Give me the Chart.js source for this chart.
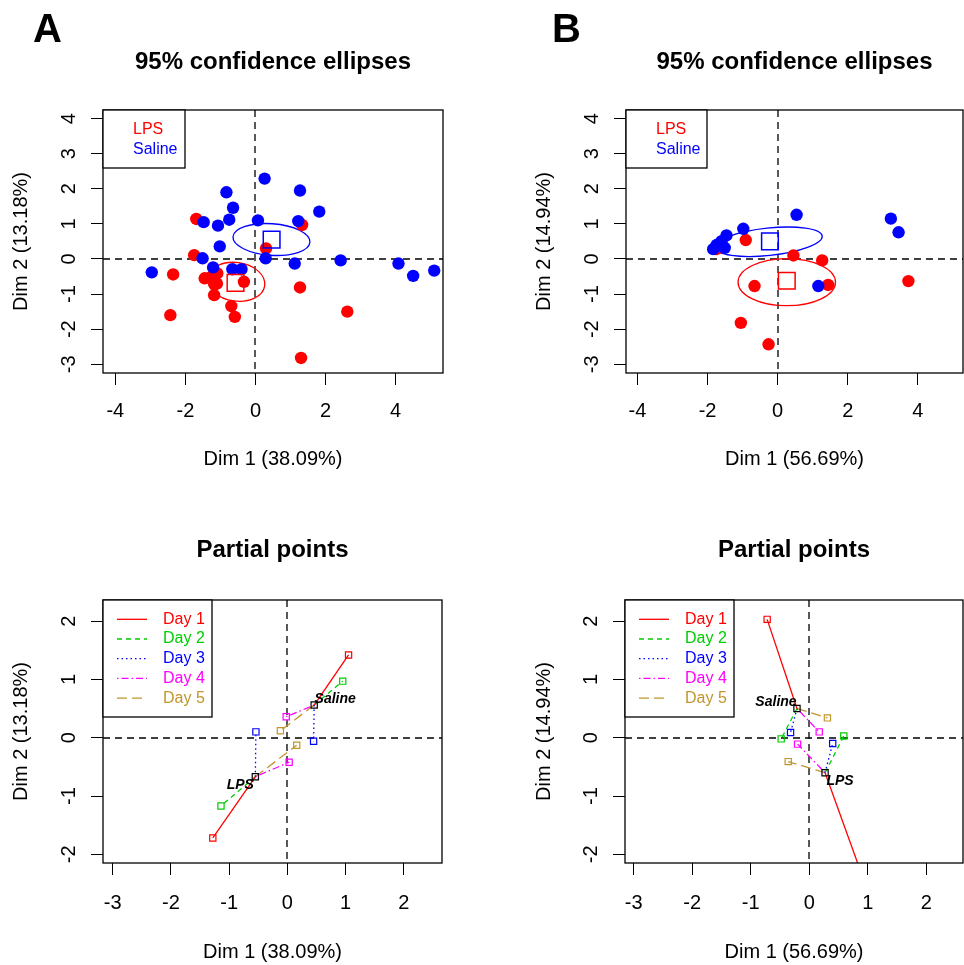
<!DOCTYPE html>
<html><head><meta charset="utf-8">
<script src="https://cdn.jsdelivr.net/npm/chart.js@4.4.1/dist/chart.umd.min.js"></script>
<style>
html,body{margin:0;padding:0;background:#fff;}
body{width:964px;height:965px;position:relative;overflow:hidden;font-family:'Liberation Sans',Arial,sans-serif;}
canvas{position:absolute;}
.letter{position:absolute;font-size:40px;font-weight:bold;line-height:40px;color:#000;z-index:2;}
</style></head><body>
<canvas id="cA" width="482" height="482" style="left:0;top:0"></canvas>
<canvas id="cB" width="441" height="482" style="left:523px;top:0"></canvas>
<canvas id="cC" width="482" height="475" style="left:0;top:490px"></canvas>
<canvas id="cD" width="441" height="475" style="left:523px;top:490px"></canvas>
<div class="letter" style="left:33px;top:8px">A</div>
<div class="letter" style="left:552px;top:8px">B</div>
<script>
const FONT = "'Liberation Sans', Arial, Helvetica, sans-serif";

// ---------- categories ----------
const groups = ['LPS', 'Saline'];
const groupColors = ['#FF0000', '#0000FF'];
const days = ['Day 1', 'Day 2', 'Day 3', 'Day 4', 'Day 5'];
const dayColors = ['#FF0000', '#00CD00', '#0000FF', '#FF00FF', '#C0962E'];
const dayDash = [[], [5, 4], [1.5, 3], [1.5, 3, 7, 3], [10, 5]];

// ---------- tick labels ----------
const ticksTopX = [-4, -2, 0, 2, 4];
const ticksTopY = [-3, -2, -1, 0, 1, 2, 3, 4];
const ticksBottomX = [-3, -2, -1, 0, 1, 2];
const ticksBottomY = [-2, -1, 0, 1, 2];

// ---------- Panel A: individuals ----------
const aLpsX = [-1.69, 1.33, 0.30, -1.75, -2.35, -1.45, -1.09, -1.16, -1.18, -0.33, 1.27, -0.69, -0.59, -2.43, 2.62, 1.30, -1.25, -1.10];
const aLpsY = [1.14, 0.97, 0.30, 0.11, -0.44, -0.55, -0.41, -0.72, -1.03, -0.65, -0.81, -1.34, -1.65, -1.60, -1.50, -2.82, -0.50, -0.70];
const aSalX = [0.26, 1.27, -0.83, -0.64, 1.82, -0.75, -1.48, -1.07, 0.07, 1.22, -1.02, -1.51, 0.29, 1.12, 2.43, 4.08, 4.50, 5.10, -2.96, -1.21, -0.66, -0.40];
const aSalY = [2.29, 1.95, 1.90, 1.46, 1.35, 1.12, 1.05, 0.95, 1.10, 1.08, 0.36, 0.02, 0.02, -0.13, -0.04, -0.13, -0.48, -0.33, -0.38, -0.24, -0.29, -0.29];
const aMeanX = [-0.57, 0.46];
const aMeanY = [-0.68, 0.55];
const aEllCx = [-0.55, 0.455];
const aEllCy = [-0.65, 0.555];
const aEllA = [0.82, 1.10];
const aEllB = [0.55, 0.45];
const aEllDeg = [-8, -4];

// ---------- Panel B: individuals ----------
const bLpsX = [-1.75, -0.91, 0.45, 1.27, -0.66, 1.44, 3.73, -1.05, -0.26];
const bLpsY = [0.28, 0.54, 0.10, -0.04, -0.77, -0.74, -0.63, -1.82, -2.43];
const bSalX = [0.54, 3.23, 3.45, -0.98, -1.46, -1.60, -1.74, -1.84, -1.51, -1.68, 1.16];
const bSalY = [1.26, 1.15, 0.76, 0.86, 0.67, 0.51, 0.40, 0.28, 0.32, 0.42, -0.77];
const bMeanX = [0.26, -0.22];
const bMeanY = [-0.62, 0.50];
const bEllCx = [0.26, -0.26];
const bEllCy = [-0.66, 0.49];
const bEllA = [1.39, 1.54];
const bEllB = [0.67, 0.39];
const bEllDeg = [0, 6];

// ---------- Panel C: partial points (per day) ----------
const cCenterX = [-0.55, 0.46];   // LPS, Saline
const cCenterY = [-0.67, 0.56];
const cLpsX = [-1.28, -1.14, -0.54, 0.03, 0.16];
const cLpsY = [-1.72, -1.17, 0.10, -0.42, -0.13];
const cSalX = [1.05, 0.95, 0.45, -0.02, -0.12];
const cSalY = [1.42, 0.97, -0.06, 0.36, 0.12];

// ---------- Panel D: partial points (per day) ----------
const dCenterX = [0.27, -0.21];   // LPS, Saline
const dCenterY = [-0.60, 0.50];
const dLpsX = [0.92, 0.59, 0.40, -0.20, -0.36];
const dLpsY = [-2.41, 0.03, -0.10, -0.11, -0.41];
const dSalX = [-0.72, -0.48, -0.32, 0.17, 0.31];
const dSalY = [2.03, -0.02, 0.09, 0.10, 0.34];

const pts = (xs, ys) => xs.map((v, i) => ({x: v, y: ys[i]}));

// ---------- decoration plugin (box, zero lines, ellipses, legends, labels) ----------
const decor = {
  id: 'decor',
  beforeDatasetsDraw(chart, args, o) {
    const {ctx, chartArea: a} = chart; const sx = chart.scales.x, sy = chart.scales.y;
    ctx.save();
    ctx.beginPath(); ctx.rect(a.left, a.top, a.width, a.height); ctx.clip();
    ctx.strokeStyle = '#000'; ctx.lineWidth = 1.3; ctx.setLineDash([7, 5]);
    const x0 = Math.round(sx.getPixelForValue(0)), y0 = Math.round(sy.getPixelForValue(0));
    ctx.beginPath();
    ctx.moveTo(x0, a.top); ctx.lineTo(x0, a.bottom);
    ctx.moveTo(a.left, y0); ctx.lineTo(a.right, y0);
    ctx.stroke();
    ctx.setLineDash([]);
    (o.ellipses || []).forEach(e => {
      const cx = sx.getPixelForValue(e.cx), cy = sy.getPixelForValue(e.cy);
      const rx = Math.abs(sx.getPixelForValue(e.cx + e.a) - cx);
      const ry = Math.abs(sy.getPixelForValue(e.cy + e.b) - cy);
      ctx.strokeStyle = e.color; ctx.lineWidth = 1.3;
      ctx.beginPath(); ctx.ellipse(cx, cy, rx, ry, -e.deg * Math.PI / 180, 0, 2 * Math.PI); ctx.stroke();
    });
    ctx.restore();
  },
  afterDraw(chart, args, o) {
    const {ctx, chartArea: a} = chart; const sx = chart.scales.x, sy = chart.scales.y;
    ctx.save();
    ctx.strokeStyle = '#000'; ctx.lineWidth = 1.3;
    ctx.strokeRect(a.left, a.top, a.width, a.height);
    if (o.legend) {
      const L = o.legend, x = a.left, y = a.top;
      ctx.fillStyle = '#fff'; ctx.fillRect(x, y, L.w, L.h);
      ctx.strokeStyle = '#000'; ctx.lineWidth = 1.3; ctx.strokeRect(x, y, L.w, L.h);
      ctx.font = '16px ' + FONT; ctx.textBaseline = 'middle'; ctx.textAlign = 'left';
      L.items.forEach((it, i) => {
        const yy = y + L.first + i * L.step;
        if (L.line) {
          ctx.strokeStyle = it.color; ctx.lineWidth = 1.3; ctx.setLineDash(it.dash);
          ctx.beginPath(); ctx.moveTo(x + L.lx1, yy); ctx.lineTo(x + L.lx2, yy); ctx.stroke();
          ctx.setLineDash([]);
        }
        ctx.fillStyle = it.color; ctx.fillText(it.text, x + L.tx, yy);
      });
    }
    (o.labels || []).forEach(l => {
      ctx.font = 'italic bold 14px ' + FONT; ctx.fillStyle = '#000';
      ctx.textAlign = 'center'; ctx.textBaseline = 'middle';
      ctx.fillText(l.text, sx.getPixelForValue(l.x) + l.dx, sy.getPixelForValue(l.y) + l.dy);
    });
    ctx.restore();
  }
};

function options(p) {
  const gridOpt = {display: true, drawOnChartArea: false, drawTicks: true, tickLength: 12, color: '#000', lineWidth: 1};
  return {
    responsive: false, animation: false, events: [],
    layout: {autoPadding: false, padding: {left: 0, right: p.padRight, top: 0, bottom: 0}},
    plugins: {
      legend: {display: false}, tooltip: {enabled: false},
      title: {display: true, text: p.title, fullSize: false, color: '#000',
              font: {family: FONT, size: 24, weight: 'bold', lineHeight: 1.2},
              padding: {top: p.titleTop, bottom: 110 - p.titleTop - 28.8}},
      decor: p.decor
    },
    scales: {
      x: {type: 'linear', min: p.xMin, max: p.xMax,
          afterBuildTicks: s => { s.ticks = p.xTicks.map(v => ({value: v})); },
          afterFit: s => { s.height = p.xAxisH; s.paddingLeft = 0; s.paddingRight = 0; s.paddingTop = 0; s.paddingBottom = 0; },
          grid: gridOpt, border: {display: false},
          ticks: {color: '#000', font: {family: FONT, size: 20}, padding: p.xTickPad, autoSkip: false, maxRotation: 0, minRotation: 0},
          title: {display: true, text: p.xTitle, color: '#000', font: {family: FONT, size: 20, lineHeight: 1.2}, padding: {top: 0, bottom: p.xTitlePad}}},
      y: {type: 'linear', min: p.yMin, max: p.yMax,
          afterBuildTicks: s => { s.ticks = p.yTicks.map(v => ({value: v})); },
          afterFit: s => { s.width = p.yAxisW; s.paddingLeft = 0; s.paddingRight = 0; s.paddingTop = 0; s.paddingBottom = 0; },
          grid: gridOpt, border: {display: false},
          ticks: {color: '#000', font: {family: FONT, size: 20}, padding: 12.4, crossAlign: 'center', minRotation: 90, maxRotation: 90, autoSkip: false},
          title: {display: true, text: p.yTitle, color: '#000', font: {family: FONT, size: 20, lineHeight: 1.2}, padding: {top: 9, bottom: 0}}}
    }
  };
}

function ellipseList(cx, cy, ea, eb, deg) {
  return groups.map((g, i) => ({cx: cx[i], cy: cy[i], a: ea[i], b: eb[i], deg: deg[i], color: groupColors[i]}));
}

function individualsDatasets(lx, ly, sx, sy, mx, my) {
  return [
    {label: 'means', data: pts(mx, my), pointStyle: 'rect', pointRadius: 11.8, pointBorderWidth: 1.5,
     pointBorderColor: groupColors, pointBackgroundColor: 'rgba(0,0,0,0)', order: 0},
    {label: groups[1], data: pts(sx, sy), pointStyle: 'circle', pointRadius: 6.2, pointBorderWidth: 0,
     pointBackgroundColor: groupColors[1], pointBorderColor: groupColors[1], order: 1},
    {label: groups[0], data: pts(lx, ly), pointStyle: 'circle', pointRadius: 6.2, pointBorderWidth: 0,
     pointBackgroundColor: groupColors[0], pointBorderColor: groupColors[0], order: 2}
  ];
}

function partialDatasets(cx, cy, lx, ly, sx, sy) {
  const ds = [{label: 'centers', data: pts(cx, cy), pointStyle: 'rect', pointRadius: 4.4, pointBorderWidth: 1.2,
               pointBorderColor: '#000', pointBackgroundColor: 'rgba(0,0,0,0)', order: 0, clip: 0}];
  days.forEach((d, i) => {
    [[0, lx, ly], [1, sx, sy]].forEach(([g, xs, ys]) => {
      ds.push({label: d + ' ' + groups[g], showLine: true,
               data: [{x: cx[g], y: cy[g]}, {x: xs[i], y: ys[i]}],
               borderColor: dayColors[i], borderWidth: 1.3, borderDash: dayDash[i],
               pointStyle: 'rect', pointRadius: [0, 4.4], pointBorderWidth: 1.2,
               pointBorderColor: dayColors[i], pointBackgroundColor: 'rgba(0,0,0,0)', order: 1, clip: 0});
    });
  });
  return ds;
}

const legendTop = {w: 82, h: 58, first: 19.3, step: 20, tx: 30, line: false,
  items: groups.map((g, i) => ({text: g, color: groupColors[i]}))};
const legendBottom = (w) => ({w: w, h: 117, first: 19.3, step: 19.7, tx: 60, lx1: 14, lx2: 44, line: true,
  items: days.map((d, i) => ({text: d, color: dayColors[i], dash: dayDash[i]}))});

// ---------- Panel A ----------
new Chart(document.getElementById('cA'), {
  type: 'scatter',
  data: {datasets: individualsDatasets(aLpsX, aLpsY, aSalX, aSalY, aMeanX, aMeanY)},
  options: options({title: '95% confidence ellipses', titleTop: 47.5, padRight: 39,
    xMin: -4.352, xMax: 5.351, yMin: -3.248, yMax: 4.245, xTicks: ticksTopX, yTicks: ticksTopY,
    xAxisH: 109, yAxisW: 103, xTickPad: 14.7, xTitlePad: 11,
    xTitle: 'Dim 1 (38.09%)', yTitle: 'Dim 2 (13.18%)',
    decor: {ellipses: ellipseList(aEllCx, aEllCy, aEllA, aEllB, aEllDeg), legend: legendTop}}),
  plugins: [decor]
});

// ---------- Panel B ----------
new Chart(document.getElementById('cB'), {
  type: 'scatter',
  data: {datasets: individualsDatasets(bLpsX, bLpsY, bSalX, bSalY, bMeanX, bMeanY)},
  options: options({title: '95% confidence ellipses', titleTop: 47.5, padRight: 1,
    xMin: -4.327, xMax: 5.288, yMin: -3.248, yMax: 4.245, xTicks: ticksTopX, yTicks: ticksTopY,
    xAxisH: 109, yAxisW: 103, xTickPad: 14.7, xTitlePad: 11,
    xTitle: 'Dim 1 (56.69%)', yTitle: 'Dim 2 (14.94%)',
    decor: {ellipses: ellipseList(bEllCx, bEllCy, bEllA, bEllB, bEllDeg), legend: Object.assign({}, legendTop, {w: 81})}}),
  plugins: [decor]
});

// ---------- Panel C ----------
new Chart(document.getElementById('cC'), {
  type: 'scatter',
  data: {datasets: partialDatasets(cCenterX, cCenterY, cLpsX, cLpsY, cSalX, cSalY)},
  options: options({title: 'Partial points', titleTop: 45.6, padRight: 40,
    xMin: -3.165, xMax: 2.654, yMin: -2.149, yMax: 2.362, xTicks: ticksBottomX, yTicks: ticksBottomY,
    xAxisH: 102, yAxisW: 103, xTickPad: 16.3, xTitlePad: 1,
    xTitle: 'Dim 1 (38.09%)', yTitle: 'Dim 2 (13.18%)',
    decor: {legend: legendBottom(109),
      labels: [{text: groups[1], x: cCenterX[1], y: cCenterY[1], dx: 21, dy: -6},
               {text: groups[0], x: cCenterX[0], y: cCenterY[0], dx: -15, dy: 8}]}}),
  plugins: [decor]
});

// ---------- Panel D ----------
new Chart(document.getElementById('cD'), {
  type: 'scatter',
  data: {datasets: partialDatasets(dCenterX, dCenterY, dLpsX, dLpsY, dSalX, dSalY)},
  options: options({title: 'Partial points', titleTop: 45.6, padRight: 1,
    xMin: -3.149, xMax: 2.627, yMin: -2.149, yMax: 2.362, xTicks: ticksBottomX, yTicks: ticksBottomY,
    xAxisH: 102, yAxisW: 102, xTickPad: 16.3, xTitlePad: 1,
    xTitle: 'Dim 1 (56.69%)', yTitle: 'Dim 2 (14.94%)',
    decor: {legend: legendBottom(109),
      labels: [{text: groups[1], x: dCenterX[1], y: dCenterY[1], dx: -21, dy: -6},
               {text: groups[0], x: dCenterX[0], y: dCenterY[0], dx: 15, dy: 8}]}}),
  plugins: [decor]
});
</script>
</body></html>
